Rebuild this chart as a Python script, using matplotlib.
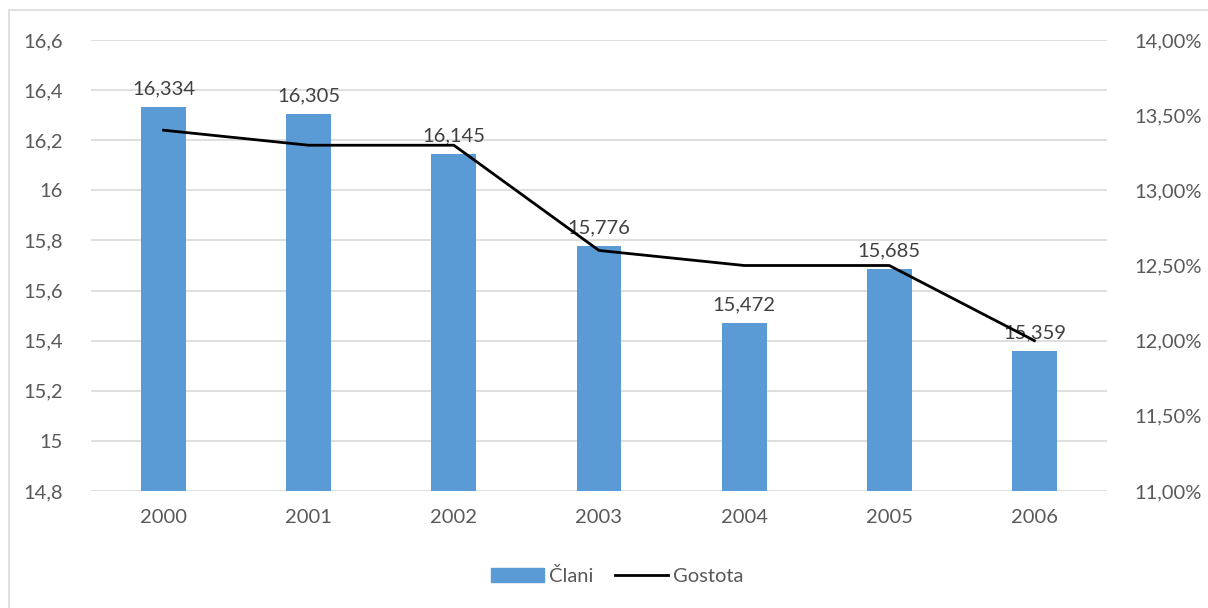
import matplotlib
matplotlib.use("Agg")
import matplotlib.pyplot as plt
from matplotlib.patches import Rectangle
from matplotlib.lines import Line2D
from matplotlib.ticker import FuncFormatter, MultipleLocator

plt.rcParams['font.family'] = ['Lato', 'DejaVu Sans']

years = ["2000", "2001", "2002", "2003", "2004", "2005", "2006"]
clani = [16.334, 16.305, 16.145, 15.776, 15.472, 15.685, 15.359]
gostota = [13.4, 13.3, 13.3, 12.6, 12.5, 12.5, 12.0]

text_color = "#595959"
grid_color = "#d9d9d9"
bar_color = "#5b9bd5"
fs = 14.5

fig = plt.figure(figsize=(12.08, 6.08), dpi=100)
fig.patch.set_facecolor("white")

# outer chart frame
fig.add_artist(Rectangle((9 / 1208, -0.01), 1.02, 1 - 10 / 608 + 0.01,
                         transform=fig.transFigure, fill=False,
                         edgecolor="#d9d9d9", linewidth=1.2))

ax = fig.add_axes([91 / 1208, 1 - 491 / 608, (1107 - 91) / 1208, (491 - 40) / 608])
x = list(range(len(years)))

ax.set_ylim(14.8, 16.6)
ax.set_xlim(-0.5, len(years) - 0.5)
ax.yaxis.set_major_locator(MultipleLocator(0.2))
ax.yaxis.set_major_formatter(FuncFormatter(
    lambda v, p: (f"{v:.1f}".rstrip("0").rstrip(".")).replace(".", ",")))
ax.grid(axis="y", color=grid_color, linewidth=1.2)
ax.set_axisbelow(True)

bars = ax.bar(x, [c - 14.8 for c in clani], bottom=14.8, width=0.31,
              color=bar_color, zorder=2)
for xi, c in zip(x, clani):
    ax.annotate(f"{c:.3f}".replace(".", ","), (xi, c), xytext=(0, 7),
                textcoords="offset points", ha="center", va="bottom",
                fontsize=fs, color="#404040", zorder=5)

ax.set_xticks(x)
ax.set_xticklabels(years)
for s in ax.spines.values():
    s.set_visible(False)
ax.tick_params(axis="both", length=0, labelsize=fs, colors=text_color)
ax.tick_params(axis="x", pad=13)
ax.tick_params(axis="y", pad=20)

ax2 = ax.twinx()
ax2.set_ylim(11.0, 14.0)
ax2.yaxis.set_major_locator(MultipleLocator(0.5))
ax2.yaxis.set_major_formatter(FuncFormatter(lambda v, p: f"{v:.2f}%".replace(".", ",")))
ax2.plot(x, gostota, color="black", linewidth=2.0, zorder=4)
for s in ax2.spines.values():
    s.set_visible(False)
ax2.tick_params(axis="y", length=0, labelsize=fs, colors=text_color, pad=20)

handles = [Rectangle((0, 0), 1, 1, color=bar_color),
           Line2D([0], [0], color="black", linewidth=2.0)]
fig.legend(handles, ["Člani", "Gostota"], loc="center", bbox_to_anchor=(0.511, 1 - 576 / 608),
           ncol=2, frameon=False, fontsize=fs, labelcolor=text_color,
           handlelength=2.6, handleheight=0.7, columnspacing=1.1, handletextpad=0.25)

fig.savefig("out.png", dpi=100, facecolor="white")
